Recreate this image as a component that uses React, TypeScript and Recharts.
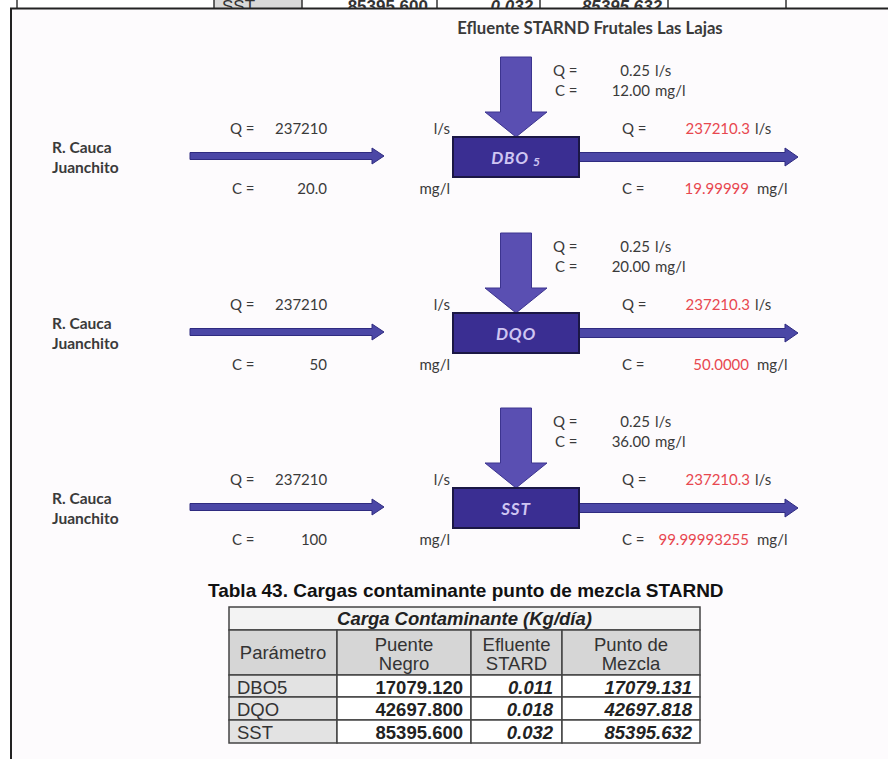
import React from 'react';
import { ScatterChart, Scatter, XAxis, YAxis, ReferenceArea, ReferenceLine } from 'recharts';

// --- data ---
const effluentTitle = 'Efluente STARND Frutales Las Lajas';
const riverName = ['R. Cauca', 'Juanchito'];
const sectionLabels = ['DBO', 'DQO', 'SST'];
const sectionSub = ['5', '', ''];
const riverQ = ['237210', '237210', '237210'];
const riverC = ['20.0', '50', '100'];
const effQ = ['0.25', '0.25', '0.25'];
const effC = ['12.00', '20.00', '36.00'];
const mixQ = ['237210.3', '237210.3', '237210.3'];
const mixC = ['19.99999', '50.0000', '99.99993255'];

const tableTitle = 'Tabla 43. Cargas contaminante punto de mezcla STARND';
const tableGroup = 'Carga Contaminante (Kg/día)';
const tableHeaders = [['Parámetro'], ['Puente', 'Negro'], ['Efluente', 'STARD'], ['Punto de', 'Mezcla']];
const tableParams = ['DBO5', 'DQO', 'SST'];
const puenteNegro = ['17079.120', '42697.800', '85395.600'];
const efluenteStard = ['0.011', '0.018', '0.032'];
const puntoMezcla = ['17079.131', '42697.818', '85395.632'];

// row of the previous page, cut off at the top
const prevRow = ['SST', '85395.600', '0.032', '85395.632'];

// --- layout ---
const W = 888;
const H = 759;
const rowCenter = [157, 333, 508];
const tableCols = [229, 337, 471, 562, 700];
const tableRows = [607, 630, 675, 697, 720, 743];
const prevLines = [17, 214, 302, 437, 540, 668, 786];

const DIAG_FONT = 'Lato, "Open Sans", sans-serif';
const TABLE_FONT = '"Liberation Sans", Arial, sans-serif';
const TEXT = '#3a3a3a';
const RED = '#e8474f';
const ARROW = '#4b47a6';
const ARROW_EDGE = '#2f2b80';
const DOWN_ARROW = '#5a4fb2';
const BOX = '#3a2e92';

type Lbl = {
  x: number;
  y: number;
  t: string;
  anchor?: 'start' | 'middle' | 'end';
  fill?: string;
  size?: number;
  bold?: boolean;
  italic?: boolean;
  font?: string;
  clip?: boolean;
};

const labels: Lbl[] = [];
const add = (l: Lbl) => labels.push(l);

add({ x: 590, y: 28, t: effluentTitle, anchor: 'middle', bold: true, size: 16.7 });

rowCenter.forEach((c, i) => {
  add({ x: 553, y: c - 87, t: 'Q =' });
  add({ x: 650, y: c - 87, t: effQ[i], anchor: 'end' });
  add({ x: 655, y: c - 87, t: 'l/s' });
  add({ x: 555, y: c - 67, t: 'C =' });
  add({ x: 650, y: c - 67, t: effC[i], anchor: 'end' });
  add({ x: 655, y: c - 67, t: 'mg/l' });

  add({ x: 230, y: c - 29, t: 'Q =' });
  add({ x: 275, y: c - 29, t: riverQ[i] });
  add({ x: 450, y: c - 29, t: 'l/s', anchor: 'end' });
  add({ x: 52, y: c - 10, t: riverName[0], bold: true, size: 15.5 });
  add({ x: 52, y: c + 10, t: riverName[1], bold: true, size: 15.5 });
  add({ x: 232, y: c + 31, t: 'C =' });
  add({ x: 327, y: c + 31, t: riverC[i], anchor: 'end' });
  add({ x: 450, y: c + 31, t: 'mg/l', anchor: 'end' });

  add({ x: 622, y: c - 29, t: 'Q =' });
  add({ x: 750, y: c - 29, t: mixQ[i], anchor: 'end', fill: RED });
  add({ x: 755, y: c - 29, t: 'l/s' });
  add({ x: 622, y: c + 31, t: 'C =' });
  add({ x: 749, y: c + 31, t: mixC[i], anchor: 'end', fill: RED });
  add({ x: 757, y: c + 31, t: 'mg/l' });
});

// table text
const tb = { font: TABLE_FONT, fill: '#222', size: 18.5 };
add({ ...tb, x: 208, y: 590, t: tableTitle, bold: true, size: 19, fill: '#111' });
add({ ...tb, x: (tableCols[0] + tableCols[4]) / 2, y: 618, t: tableGroup, anchor: 'middle', bold: true, italic: true });
tableHeaders.forEach((lines, j) => {
  const cx = (tableCols[j] + tableCols[j + 1]) / 2;
  const mid = (tableRows[1] + tableRows[2]) / 2;
  lines.forEach((t, k) => {
    const y = lines.length === 1 ? mid : mid - 8 + k * 19;
    add({ ...tb, x: cx, y, t, anchor: 'middle', fill: '#333' });
  });
});
tableParams.forEach((p, r) => {
  const y = (tableRows[2 + r] + tableRows[3 + r]) / 2 + 1;
  add({ ...tb, x: 237, y, t: p, fill: '#333' });
  add({ ...tb, x: 463, y, t: puenteNegro[r], anchor: 'end', bold: true });
  add({ ...tb, x: 553, y, t: efluenteStard[r], anchor: 'end', bold: true, italic: true });
  add({ ...tb, x: 692, y, t: puntoMezcla[r], anchor: 'end', bold: true, italic: true });
});

// cut-off previous row
const pr = { font: TABLE_FONT, fill: '#333', size: 17, clip: true };
add({ ...pr, x: 222, y: 6, t: prevRow[0] });
add({ ...pr, x: 428, y: 6, t: prevRow[1], anchor: 'end', bold: true });
add({ ...pr, x: 533, y: 6, t: prevRow[2], anchor: 'end', bold: true, italic: true });
add({ ...pr, x: 662, y: 6, t: prevRow[3], anchor: 'end', bold: true, italic: true });

const renderLabel = (props: any) => {
  const { cx, cy, payload, index } = props;
  const l: Lbl = payload;
  const text = (
    <text
      x={cx}
      y={cy}
      dominantBaseline="central"
      textAnchor={l.anchor || 'start'}
      fill={l.fill || TEXT}
      fontSize={l.size || 15}
      fontWeight={l.bold ? 700 : 400}
      fontStyle={l.italic ? 'italic' : 'normal'}
      fontFamily={l.font || DIAG_FONT}
    >
      {l.t}
    </text>
  );
  if (!l.clip) return text;
  const id = `clip-prev-${index}`;
  return (
    <g>
      <defs>
        <clipPath id={id}>
          <rect x={0} y={0} width={W} height={8} />
        </clipPath>
      </defs>
      <g clipPath={`url(#${id})`}>{text}</g>
    </g>
  );
};

const hArrow = (shaft: number, head: number) => (p: any) => {
  const { x, y, width, height } = p;
  const cy = y + height / 2;
  const hx = x + width - head;
  const pts = [
    [x, cy - shaft / 2],
    [hx, cy - shaft / 2],
    [hx, y],
    [x + width, cy],
    [hx, y + height],
    [hx, cy + shaft / 2],
    [x, cy + shaft / 2],
  ];
  return <polygon points={pts.map((q) => q.join(',')).join(' ')} fill={ARROW} stroke={ARROW_EDGE} strokeWidth={1} />;
};

const downArrow = (p: any) => {
  const { x, y, width, height } = p;
  const cx = x + width / 2;
  const half = width * 0.25;
  const hy = y + height - 25;
  const pts = [
    [cx - half, y],
    [cx + half, y],
    [cx + half, hy],
    [x + width, hy],
    [cx, y + height],
    [x, hy],
    [cx - half, hy],
  ];
  return <polygon points={pts.map((q) => q.join(',')).join(' ')} fill={DOWN_ARROW} stroke="#3c348f" strokeWidth={1} />;
};

const boxShape = (i: number) => (p: any) => {
  const { x, y, width, height } = p;
  return (
    <g>
      <rect x={x} y={y} width={width} height={height} fill={BOX} stroke="#1b1745" strokeWidth={2} />
      <text
        x={x + width / 2}
        y={y + height / 2}
        dominantBaseline="central"
        textAnchor="middle"
        fill="#cfc6f2"
        fontSize={17}
        fontWeight={700}
        fontStyle="italic"
        letterSpacing={0.8}
        fontFamily={DIAG_FONT}
      >
        {sectionLabels[i]}
        {sectionSub[i] ? (
          <tspan dx={4} dy={4} fontSize={12}>
            {sectionSub[i]}
          </tspan>
        ) : null}
      </text>
    </g>
  );
};

export default function App() {
  return (
    <div style={{ position: 'absolute', left: 0, top: 0, width: W, height: H, background: '#ffffff' }}>
      <ScatterChart width={W} height={H} margin={{ top: 0, right: 0, bottom: 0, left: 0 }}>
        <XAxis type="number" dataKey="x" domain={[0, W]} hide allowDataOverflow />
        <YAxis type="number" dataKey="y" domain={[0, H]} reversed hide allowDataOverflow />

        {/* page background inside the frame */}
        <ReferenceArea x1={11} x2={W} y1={9} y2={H} fill="#fdfbfd" fillOpacity={1} stroke="none" />

        {/* previous page row */}
        <ReferenceArea x1={214} x2={302} y1={0} y2={8} fill="#d9d9d9" fillOpacity={1} stroke="none" />
        {prevLines.map((x) => (
          <ReferenceLine key={`pl${x}`} segment={[{ x, y: 0 }, { x, y: 8 }]} stroke="#333" strokeWidth={1.5} />
        ))}

        {/* frame */}
        <ReferenceLine segment={[{ x: 10, y: 8.5 }, { x: W, y: 8.5 }]} stroke="#222" strokeWidth={2} />
        <ReferenceLine segment={[{ x: 11, y: 8 }, { x: 11, y: H }]} stroke="#222" strokeWidth={2} />

        {/* diagram */}
        {rowCenter.map((c, i) => (
          <ReferenceArea key={`in${i}`} x1={190} x2={384} y1={c - 9} y2={c + 7} shape={hArrow(7, 12)} />
        ))}
        {rowCenter.map((c, i) => (
          <ReferenceArea key={`out${i}`} x1={579} x2={798} y1={c - 9} y2={c + 9} shape={hArrow(9, 13)} />
        ))}
        {rowCenter.map((c, i) => (
          <ReferenceArea key={`dn${i}`} x1={485} x2={547} y1={c - 100} y2={c - 20} shape={downArrow} />
        ))}
        {rowCenter.map((c, i) => (
          <ReferenceArea key={`box${i}`} x1={453} x2={579} y1={c - 20} y2={c + 20} shape={boxShape(i)} />
        ))}

        {/* table cells */}
        <ReferenceArea x1={tableCols[0]} x2={tableCols[4]} y1={tableRows[0]} y2={tableRows[1]} fill="#f3f3f3" fillOpacity={1} stroke="#444" strokeWidth={1.5} />
        {tableHeaders.map((_, j) => (
          <ReferenceArea
            key={`th${j}`}
            x1={tableCols[j]}
            x2={tableCols[j + 1]}
            y1={tableRows[1]}
            y2={tableRows[2]}
            fill="#d6d6d6"
            fillOpacity={1}
            stroke="#444"
            strokeWidth={1.5}
          />
        ))}
        {tableParams.map((_, r) =>
          tableHeaders.map((__, j) => (
            <ReferenceArea
              key={`td${r}-${j}`}
              x1={tableCols[j]}
              x2={tableCols[j + 1]}
              y1={tableRows[2 + r]}
              y2={tableRows[3 + r]}
              fill={j === 0 ? '#e3e3e3' : '#ffffff'}
              fillOpacity={1}
              stroke="#444"
              strokeWidth={1.5}
            />
          ))
        )}

        <Scatter data={labels} isAnimationActive={false} shape={renderLabel} />
      </ScatterChart>
    </div>
  );
}
